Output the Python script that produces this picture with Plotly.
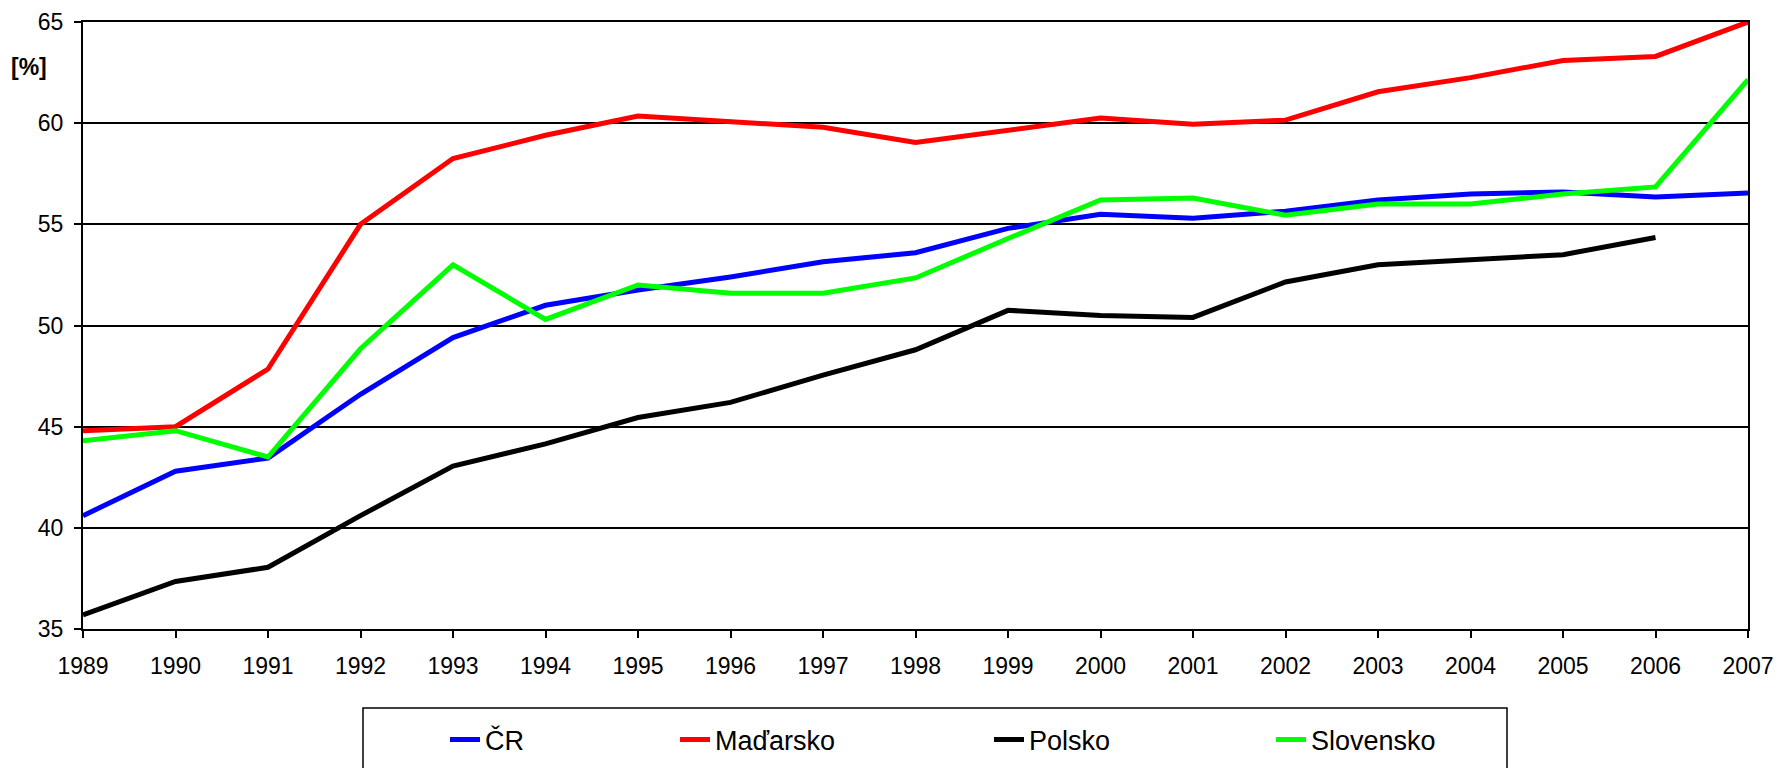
import plotly.graph_objects as go

years = list(range(1989, 2008))
cr = [40.6, 42.8, 43.45, 46.6, 49.4, 51.0, 51.75, 52.4, 53.15, 53.6, 54.8, 55.5, 55.3, 55.65, 56.2, 56.5, 56.6, 56.35, 56.55]
hu = [44.8, 45.0, 47.85, 55.0, 58.25, 59.4, 60.35, 60.05, 59.8, 59.05, 59.65, 60.25, 59.95, 60.15, 61.55, 62.25, 63.1, 63.3, 65.0]
pl = [35.7, 37.35, 38.05, 40.6, 43.05, 44.15, 45.45, 46.2, 47.55, 48.8, 50.75, 50.5, 50.4, 52.15, 53.0, 53.25, 53.5, 54.35, None]
sk = [44.3, 44.8, 43.5, 48.85, 53.0, 50.3, 52.0, 51.6, 51.6, 52.35, 54.3, 56.2, 56.3, 55.45, 56.0, 56.0, 56.5, 56.85, 62.15]

series_names = ["ČR", "Maďarsko", "Polsko", "Slovensko"]
series_values = [cr, hu, pl, sk]
series_colors = ["#0000FF", "#FF0000", "#000000", "#00FF00"]
legend_ids = ["legend", "legend2", "legend3", "legend4"]
legend_px = [445, 675, 989, 1271]

W, H = 1777, 768
FONT = "Arial, Liberation Sans, sans-serif"

fig = go.Figure()
for name, vals, col, lid in zip(series_names, series_values, series_colors, legend_ids):
    fig.add_trace(go.Scatter(
        x=years, y=vals, name=name, mode="lines",
        line=dict(color=col, width=5),
        cliponaxis=False, legend=lid,
    ))

legend_common = dict(
    xref="container", yref="container", xanchor="left", yanchor="middle",
    y=1 - 740 / H, orientation="h", bgcolor="rgba(0,0,0,0)", borderwidth=0,
    font=dict(family=FONT, size=27, color="black"),
)
layout_legends = {}
for lid, px in zip(legend_ids, legend_px):
    layout_legends[lid] = dict(legend_common, x=px / W)

fig.update_layout(
    width=W, height=H,
    margin=dict(l=83, r=29, t=22, b=139, autoexpand=False),
    paper_bgcolor="white", plot_bgcolor="white",
    font=dict(family=FONT, size=23, color="black"),
    showlegend=True,
    **layout_legends,
)

fig.update_xaxes(
    range=[1989, 2007], tickmode="array", tickvals=years,
    ticktext=[str(y) for y in years],
    showgrid=False, zeroline=False,
    showline=True, linecolor="black", linewidth=2, mirror=True,
    ticks="outside", ticklen=7, tickwidth=2, tickcolor="black",
    tickfont=dict(family=FONT, size=23, color="black"),
    ticklabelstandoff=8,
)
fig.update_yaxes(
    range=[35, 65], dtick=5, tick0=35,
    showgrid=True, gridcolor="black", gridwidth=1.5, zeroline=False,
    showline=True, linecolor="black", linewidth=2, mirror=True,
    ticks="outside", ticklen=7, tickwidth=2, tickcolor="black",
    tickfont=dict(family=FONT, size=23, color="black"),
    ticklabelstandoff=6,
)

# legend frame
x0 = (363 - 83) / 1665
x1 = (1507 - 83) / 1665
y0 = (629 - 708) / 607
y1 = (629 - 790) / 607
fig.add_shape(type="rect", xref="paper", yref="paper", x0=x0, x1=x1, y0=y0, y1=y1,
              line=dict(color="black", width=1.5), fillcolor="rgba(0,0,0,0)")

fig.add_annotation(
    text="<b>[%]</b>", xref="paper", yref="paper",
    x=(29 - 83) / 1665, y=(629 - 67) / 607, showarrow=False,
    xanchor="center", yanchor="middle",
    font=dict(family=FONT, size=23, color="black"),
)

fig.write_html("out.html", config={"displayModeBar": False},
               post_script="document.body.style.margin='0px';")
